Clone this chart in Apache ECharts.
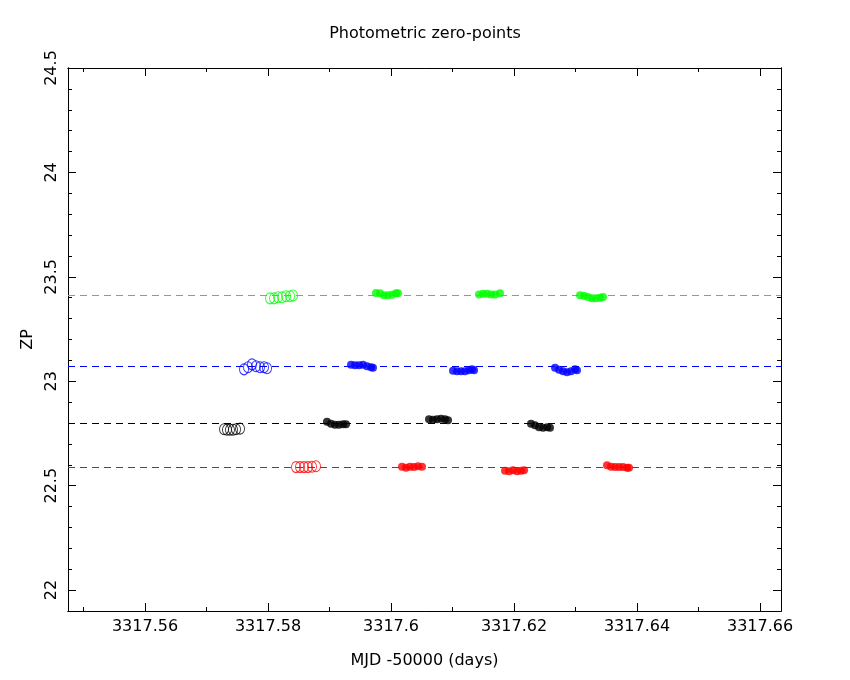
<!DOCTYPE html>
<html>
<head>
<meta charset="utf-8">
<script src="https://cdn.jsdelivr.net/npm/echarts@6/dist/echarts.min.js"></script>
<style>html,body{margin:0;padding:0;background:#fff}#chart{width:850px;height:680px}</style>
</head>
<body>
<div id="chart"></div>
<script>
// ---- axis ranges and ticks ----
const xMin = 3317.54748, xMax = 3317.66341;
const yMin = 21.9, yMax = 24.5;
const xMajorTicks = [3317.56, 3317.58, 3317.6, 3317.62, 3317.64, 3317.66];
const xMinorTicks = [3317.55, 3317.57, 3317.59, 3317.61, 3317.63, 3317.65];
const yMajorTicks = [22, 22.5, 23, 23.5, 24, 24.5];
const yMinorTicks = [22.1, 22.2, 22.3, 22.4, 22.6, 22.7, 22.8, 22.9, 23.1, 23.2, 23.3, 23.4,
                     23.6, 23.7, 23.8, 23.9, 24.1, 24.2, 24.3, 24.4];

// ---- mean zero-points (dashed lines) ----
const zpGreen = 23.415, zpBlue = 23.066, zpBlack = 22.798, zpRed = 22.587;

// ---- green ----
const greenOpenX = [3317.58033, 3317.58098, 3317.58163, 3317.58228, 3317.58293, 3317.58358, 3317.58407];
const greenOpenY = [23.397, 23.397, 23.402, 23.402, 23.407, 23.407, 23.411];
const greenFillX = [3317.59756, 3317.59821, 3317.59886, 3317.59951, 3317.60016, 3317.60081, 3317.60114,
                    3317.61431, 3317.61496, 3317.61561, 3317.61626, 3317.61691, 3317.61772,
                    3317.63073, 3317.63138, 3317.63203, 3317.63268, 3317.63333, 3317.63398, 3317.63447];
const greenFillY = [23.423, 23.421, 23.412, 23.412, 23.414, 23.421, 23.421,
                    23.416, 23.419, 23.419, 23.416, 23.416, 23.421,
                    23.412, 23.409, 23.404, 23.397, 23.397, 23.400, 23.404];

// ---- blue ----
const blueOpenX = [3317.57610, 3317.57675, 3317.57740, 3317.57805, 3317.57870, 3317.57935, 3317.57984];
const blueOpenY = [23.057, 23.067, 23.081, 23.072, 23.067, 23.067, 23.062];
const blueFillX = [3317.59350, 3317.59415, 3317.59480, 3317.59545, 3317.59610, 3317.59675, 3317.59707,
                   3317.61008, 3317.61073, 3317.61138, 3317.61203, 3317.61268, 3317.61317, 3317.61350,
                   3317.62667, 3317.62732, 3317.62797, 3317.62862, 3317.62927, 3317.62992, 3317.63024];
const blueFillY = [23.079, 23.077, 23.077, 23.079, 23.072, 23.067, 23.065,
                   23.050, 23.048, 23.048, 23.048, 23.053, 23.057, 23.053,
                   23.065, 23.055, 23.048, 23.043, 23.048, 23.057, 23.053];

// ---- black ----
const blackOpenX = [3317.57285, 3317.57333, 3317.57382, 3317.57431, 3317.57480, 3317.57545];
const blackOpenY = [22.770, 22.768, 22.768, 22.768, 22.770, 22.773];
const blackFillX = [3317.58959, 3317.59024, 3317.59089, 3317.59154, 3317.59220, 3317.59268,
                    3317.60618, 3317.60683, 3317.60748, 3317.60813, 3317.60878, 3317.60927,
                    3317.62276, 3317.62341, 3317.62407, 3317.62472, 3317.62537, 3317.62585];
const blackFillY = [22.806, 22.797, 22.792, 22.792, 22.794, 22.794,
                    22.818, 22.816, 22.818, 22.821, 22.818, 22.813,
                    22.797, 22.790, 22.780, 22.778, 22.780, 22.778];

// ---- red ----
const redOpenX = [3317.58455, 3317.58520, 3317.58585, 3317.58650, 3317.58715, 3317.58780];
const redOpenY = [22.589, 22.589, 22.589, 22.589, 22.591, 22.593];
const redFillX = [3317.60179, 3317.60244, 3317.60309, 3317.60374, 3317.60439, 3317.60504,
                  3317.61854, 3317.61919, 3317.61984, 3317.62049, 3317.62114, 3317.62163,
                  3317.63512, 3317.63577, 3317.63642, 3317.63707, 3317.63772, 3317.63837, 3317.63870];
const redFillY = [22.591, 22.586, 22.591, 22.589, 22.593, 22.591,
                  22.572, 22.569, 22.574, 22.569, 22.572, 22.574,
                  22.598, 22.591, 22.589, 22.589, 22.589, 22.586, 22.586];

// ---- build ----
const FONT = 'DejaVu Sans';
const zip = (xs, ys) => xs.map((x, i) => [x, ys[i]]);

function xAx(pos, ticks, len, labels, extra) {
  return Object.assign({
    type: 'value', position: pos, min: xMin, max: xMax, gridIndex: 0,
    axisLine: { show: true, onZero: false, lineStyle: { color: '#000', width: 1 } },
    axisTick: { show: true, inside: true, length: len, customValues: ticks, lineStyle: { color: '#000', width: 1 } },
    axisLabel: labels ? { show: true, customValues: ticks, margin: 8, color: '#000', fontFamily: FONT, fontSize: 16, lineHeight: 16,
                          formatter: v => String(v) } : { show: false },
    splitLine: { show: false }
  }, extra || {});
}
function yAx(pos, ticks, len, labels, extra) {
  return Object.assign({
    type: 'value', position: pos, min: yMin, max: yMax, gridIndex: 0,
    axisLine: { show: true, onZero: false, lineStyle: { color: '#000', width: 1 } },
    axisTick: { show: true, inside: true, length: len, customValues: ticks, lineStyle: { color: '#000', width: 1 } },
    axisLabel: labels ? { show: true, customValues: ticks, rotate: 90, margin: 8, color: '#000', fontFamily: FONT, fontSize: 16, lineHeight: 16,
                          formatter: v => String(v) } : { show: false },
    splitLine: { show: false }
  }, extra || {});
}

function refLine(zp, color) {
  return { type: 'scatter', data: [], silent: true, z: 1,
           markLine: { silent: true, symbol: 'none', label: { show: false }, animation: false,
                       lineStyle: { color: color, width: 1, type: [7, 5], opacity: 1 },
                       data: [{ yAxis: zp }] } };
}
function openPts(xs, ys, color) {
  return { type: 'scatter', data: zip(xs, ys), symbol: 'circle', symbolSize: [9, 11], z: 3, silent: true,
           itemStyle: { color: 'rgba(0,0,0,0)', borderColor: color, borderWidth: 1 } };
}
function fillPts(xs, ys, color) {
  return { type: 'scatter', data: zip(xs, ys), symbol: 'circle', symbolSize: 8, z: 3, silent: true,
           itemStyle: { color: color } };
}

const chart = echarts.init(document.getElementById('chart'), null, { renderer: 'canvas' });
chart.setOption({
  animation: false,
  backgroundColor: '#fff',
  title: { text: 'Photometric zero-points', left: 'center', top: 21,
           textStyle: { fontFamily: FONT, fontSize: 16, fontWeight: 'normal', color: '#000' } },
  grid: { left: 68, right: 69, top: 68, bottom: 69, containLabel: false },
  xAxis: [
    xAx('bottom', xMajorTicks, 8, true, { name: 'MJD -50000 (days)', nameLocation: 'middle', nameGap: 42,
        nameTextStyle: { fontFamily: FONT, fontSize: 16, color: '#000' } }),
    xAx('bottom', xMinorTicks, 4, false),
    xAx('top', xMajorTicks, 8, false),
    xAx('top', xMinorTicks, 4, false)
  ],
  yAxis: [
    yAx('left', yMajorTicks, 8, true, { name: 'ZP', nameLocation: 'middle', nameGap: 32,
        nameTextStyle: { fontFamily: FONT, fontSize: 16, color: '#000' } }),
    yAx('left', yMinorTicks, 4, false),
    yAx('right', yMajorTicks, 8, false),
    yAx('right', yMinorTicks, 4, false)
  ],
  series: [
    refLine(zpGreen, '#00ff00'), refLine(zpBlue, '#0000ff'), refLine(zpBlack, '#000000'), refLine(zpRed, '#ff0000'),
    openPts(greenOpenX, greenOpenY, '#00ff00'), fillPts(greenFillX, greenFillY, '#00ff00'),
    openPts(blueOpenX, blueOpenY, '#0000ff'), fillPts(blueFillX, blueFillY, '#0000ff'),
    openPts(blackOpenX, blackOpenY, '#000000'), fillPts(blackFillX, blackFillY, '#000000'),
    openPts(redOpenX, redOpenY, '#ff0000'), fillPts(redFillX, redFillY, '#ff0000')
  ]
});
</script>
</body>
</html>
